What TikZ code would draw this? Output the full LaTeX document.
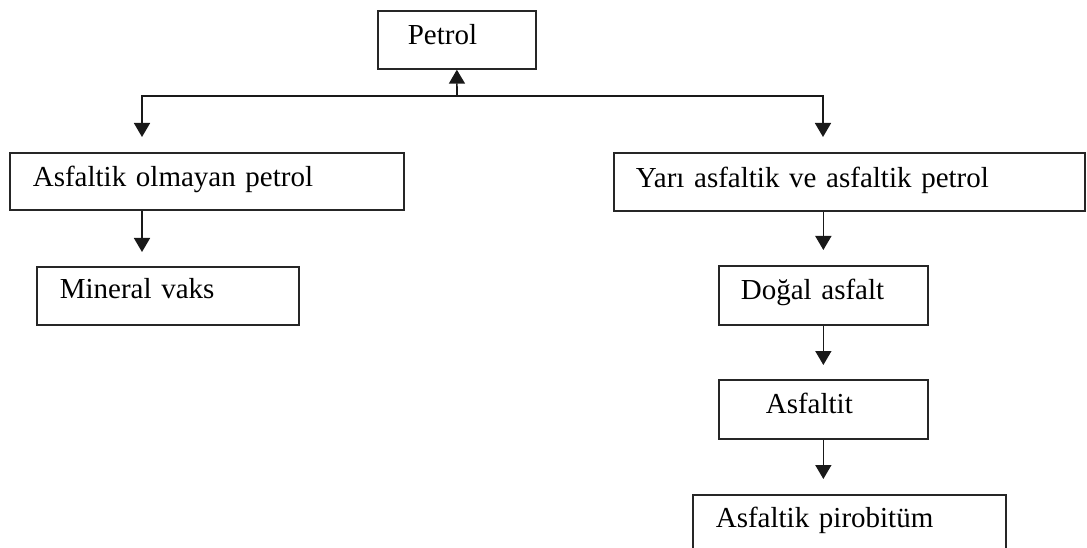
\documentclass[tikz,border=0pt]{standalone}
\usepackage{fontspec}
\setmainfont{Liberation Serif}
\usetikzlibrary{arrows.meta,positioning}
\tikzstyle{kutu} = [draw=black!85, line width=1.7pt, inner ysep=0pt, align=left, anchor=north west, font=\fontsize{29}{34}\selectfont]
\tikzstyle{flow} = [draw=black!90, line width=1.6pt, -{Triangle[width=16pt, length=14pt]}]

\begin{document}
\begin{tikzpicture}[x=1pt,y=-1pt]
    \useasboundingbox (0,0) rectangle (1087,548);

    % kutular
    \node[kutu, inner xsep=30pt, text width=98pt, text height=34pt, text depth=24pt] (petrol) at (377,10) {Petrol};
    \node[kutu, inner xsep=23pt, text width=348pt, text height=34pt, text depth=23pt] (asfno) at (9,152) {Asfaltik olmayan petrol};
    \node[kutu, inner xsep=22pt, text width=427pt, text height=35pt, text depth=23pt] (yari) at (613,152) {Yarı asfaltik ve asfaltik petrol};
    \node[kutu, inner xsep=23pt, text width=216pt, text height=32pt, text depth=26pt] (vaks) at (36,266) {Mineral vaks};
    \node[kutu, inner xsep=22pt, text width=165pt, text height=34pt, text depth=25pt] (dogal) at (718,265) {Doğal asfalt};
    \node[kutu, inner xsep=47pt, text width=115pt, text height=34pt, text depth=25pt] (asfaltit) at (718,379) {Asfaltit};
    \node[kutu, inner xsep=23pt, text width=267pt, text height=33pt, text depth=36pt] (piro) at (692,494) {Asfaltik pirobitüm};

    % oklar
    \coordinate (split) at (457,96);
    \coordinate (lt) at (142,137);
    \coordinate (rt) at (823,137);
    \path[flow] (split) -- (petrol.south);
    \path[flow] (split) -| (lt);
    \path[flow] (split) -| (rt);
    \path[flow, shorten >=14pt] (lt |- asfno.south) -- (lt |- vaks.north);
    \path[flow, shorten >=15pt] (dogal.north |- yari.south) -- (dogal.north);
    \path[flow, shorten >=14pt] (dogal.south) -- (asfaltit.north);
    \path[flow, shorten >=15pt] (asfaltit.south) -- (asfaltit.south |- piro.north);
\end{tikzpicture}
\end{document}
